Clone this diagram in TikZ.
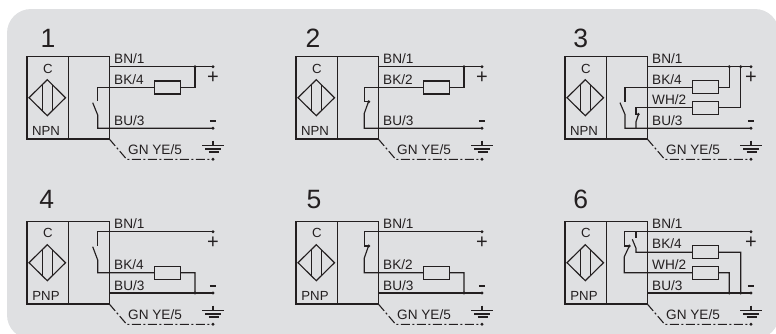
\documentclass[tikz,border=0pt]{standalone}
\usepackage{fontspec}
\setmainfont{Liberation Sans}
\definecolor{panelgray}{RGB}{223,224,226}
\definecolor{ink}{RGB}{35,31,32}
\tikzset{
  wire/.style={draw=ink,line width=1.15pt},
  boxline/.style={draw=ink,line width=1.15pt},
  res/.style={draw=ink,line width=1.15pt,fill=panelgray},
  lab/.style={anchor=west,inner sep=0pt,font=\fontsize{13.6}{14}\selectfont,text=ink},
  mid/.style={inner sep=0pt,font=\fontsize{13.2}{14}\selectfont,text=ink},
  num/.style={inner sep=0pt,font=\fontsize{26.5}{27}\selectfont,text=ink},
  sign/.style={inner sep=0pt,font=\fontsize{20}{20}\selectfont,text=ink},
  dot/.style={circle,fill=ink,inner sep=0pt,minimum size=3.2pt},
  dd/.style={draw=ink,line width=1.1pt,dash pattern=on 9pt off 2.5pt on 2pt off 2.5pt}
}
% #1 number #2 x offset #3 y offset #4 type #5 number x #6 number y #7 C y
\newcommand{\sensor}[7]{%
\begin{scope}[shift={(#2,#3)}]
  \node[num] (n#1) at (#5,#6) {#1};
  \coordinate (tl#1) at (27,56.7);
  \coordinate (br#1) at (109.3,139);
  \draw[boxline] (tl#1) rectangle (br#1);
  \draw[boxline] (68.3,56.7) -- (68.3,139);
  \node[mid] (c#1) at (48,#7) {C};
  \coordinate (dt#1) at (47.3,79.7);
  \coordinate (dr#1) at (65.5,97.7);
  \coordinate (db#1) at (47.3,115.7);
  \coordinate (dl#1) at (29,97.7);
  \draw[boxline,line join=miter] (dt#1) -- (dr#1) -- (db#1) -- (dl#1) -- cycle;
  \draw[boxline] (42.7,84.4) -- (42.7,111);
  \draw[boxline] (52.7,85.1) -- (52.7,110.3);
  \node[mid] (t#1) at (46,130.9) {#4};
  \node[lab] (bn#1) at (114,58.7) {BN/1};
  \node[lab] (gn#1) at (128,150) {GN YE/5};
  \coordinate (sp#1) at (213,66.7);
  \coordinate (sm#1) at (213,128.3);
  \coordinate (ge#1) at (213,159.3);
  \node[sign] (plus#1) at (213,77.5) {+};
  \draw[draw=ink,line width=2pt] (209.8,121.3) -- (216.2,121.3);
  \draw[wire] (213,140.7) -- (213,145.7);
  \draw[wire] (202,145.7) -- (224,145.7);
  \draw[wire] (205,149) -- (221,149);
  \draw[wire] (208.5,152) -- (218.5,152);
  \draw[dd] (br#1) -- (126.7,159.3) -- (ge#1);
  \node[dot] at (ge#1) {};
\end{scope}}
\newcommand{\resist}[3]{% x0 x1 y
  \draw[res] (#1,#3-6.5) rectangle (#2,#3+6.5);}
\newcommand{\nodot}[1]{\node[dot] at (#1) {};}
\begin{document}
\begin{tikzpicture}[x=1pt,y=-1pt]
\useasboundingbox (0,0) rectangle (776,333);
\begin{scope}
\clip (0,0) rectangle (776,333);
\fill[panelgray,rounded corners=24pt] (7,9) rectangle (779,339);
\end{scope}
% ---- 1
\sensor{1}{0}{0}{NPN}{48}{38}{69}
\node[lab] (a1) at (114,80) {BK/4};
\node[lab] (a2) at (114,121) {BU/3};
\draw[wire] (109.3,66.7) -- (213,66.7);
\nodot{213,66.7}\nodot{195,66.7}
\draw[wire] (195,66.7) -- (195,87.3) -- (97.7,87.3) -- (97.7,100.5);
\draw[wire] (92.7,102.7) -- (97.7,115) -- (97.7,128.3) -- (213,128.3);
\nodot{213,128.3}
\resist{154.3}{180.7}{87.5}
% ---- 2
\sensor{2}{269}{0}{NPN}{44}{38}{69}
\node[lab] (b1) at (383,80) {BK/2};
\node[lab] (b2) at (383,121) {BU/3};
\draw[wire] (378.3,66.7) -- (482,66.7);
\nodot{482,66.7}\nodot{464,66.7}
\draw[wire] (464,66.7) -- (464,87.3) -- (364.3,87.3) -- (364.3,101.7) -- (369.3,101.7);
\draw[wire] (368.5,101.7) -- (364.3,113.3) -- (364.3,128.3) -- (482,128.3);
\nodot{482,128.3}\nodot{368.7,101.7}
\resist{423.3}{449.7}{87.5}
% ---- 3
\sensor{3}{538}{0}{NPN}{42.7}{38}{69}
\node[lab] (c1) at (652,80) {BK/4};
\node[lab] (c2) at (652,100) {WH/2};
\node[lab] (c3) at (652,121) {BU/3};
\draw[wire] (647.3,66.7) -- (751,66.7);
\nodot{751,66.7}\nodot{729.3,66.7}\nodot{740.7,66.7}
\draw[wire] (729.3,66.7) -- (729.3,87.3) -- (625,87.3) -- (625,101.5);
\draw[wire] (620,102.7) -- (625,114.5) -- (625,128.3) -- (751,128.3);
\draw[wire] (740.7,66.7) -- (740.7,107.7) -- (636,107.7) -- (636,114.3) -- (639,114.3);
\draw[wire] (638.5,114.3) -- (636,121.7) -- (636,128.3);
\nodot{751,128.3}\nodot{638.3,114.3}
\resist{692.3}{718.7}{87.3}
\resist{692.3}{718.7}{108}
% ---- 4
\sensor{4}{0}{165}{PNP}{46.7}{34.3}{67.5}
\node[lab] (d1) at (114,264.5) {BK/4};
\node[lab] (d2) at (114,286) {BU/3};
\draw[wire] (213,231.7) -- (97.7,231.7) -- (97.7,245.7);
\draw[wire] (92.7,246.7) -- (97.7,260) -- (97.7,272.7) -- (195,272.7) -- (195,293);
\draw[wire] (109.3,293) -- (213,293);
\nodot{213,231.7}\nodot{213,293}\nodot{195,293}
\resist{154.3}{180.7}{272.7}
% ---- 5
\sensor{5}{269}{165}{PNP}{45}{34.3}{67.5}
\node[lab] (e1) at (383,264.5) {BK/2};
\node[lab] (e2) at (383,286) {BU/3};
\draw[wire] (482,231.7) -- (364.3,231.7) -- (364.3,246) -- (369.3,246);
\draw[wire] (368.5,246) -- (364.3,258) -- (364.3,272.7) -- (464,272.7) -- (464,293);
\draw[wire] (378.3,293) -- (482,293);
\nodot{482,231.7}\nodot{482,293}\nodot{464,293}\nodot{368.7,246}
\resist{423.3}{449.7}{272.7}
% ---- 6
\sensor{6}{538}{165}{PNP}{42.7}{34.3}{67.5}
\node[lab] (f1) at (652,244) {BK/4};
\node[lab] (f2) at (652,264.5) {WH/2};
\node[lab] (f3) at (652,286) {BU/3};
\draw[wire] (751,231.7) -- (624.3,231.7) -- (624.3,246) -- (630,246);
\draw[wire] (629.3,246) -- (624.3,256.7) -- (624.3,272.7) -- (729.3,272.7) -- (729.3,293);
\draw[wire] (636,231.7) -- (636,238);
\draw[wire] (632.3,239.3) -- (636,248.3) -- (636,252.3) -- (740.7,252.3) -- (740.7,293);
\draw[wire] (647.3,293) -- (751,293);
\nodot{751,231.7}\nodot{751,293}\nodot{729.3,293}\nodot{740.7,293}\nodot{629.3,246}
\resist{692.3}{718.7}{252.3}
\resist{692.3}{718.7}{272.7}
\end{tikzpicture}
\end{document}
